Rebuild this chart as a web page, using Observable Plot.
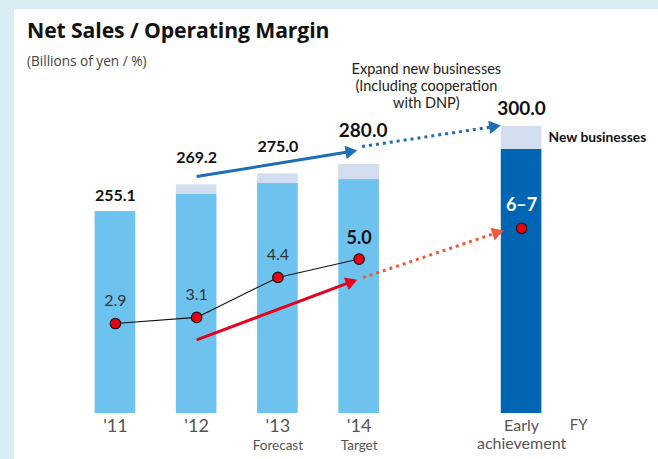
<!DOCTYPE html>
<html><head><meta charset="utf-8">
<script src="https://cdn.jsdelivr.net/npm/d3@7"></script>
<script src="https://cdn.jsdelivr.net/npm/@observablehq/plot@0.6"></script>
<style>
html,body{margin:0;padding:0;background:#d9eef2;}
#wrap{position:relative;width:658px;height:459px;overflow:hidden;background:#d9eef2;font-family:Lato,sans-serif;}
#panel{position:absolute;left:14px;top:9px;right:0;bottom:0;background:#fff;}
#chart{position:absolute;left:0;top:0;}
#title{position:absolute;left:27px;top:16px;font-family:"Open Sans",sans-serif;font-size:21.2px;font-weight:700;color:#111;line-height:28px;white-space:nowrap;letter-spacing:-0.1px;}
#sub{position:absolute;left:27px;top:52px;font-family:"Open Sans",sans-serif;font-size:13.6px;color:#444;line-height:18px;white-space:nowrap;}
</style></head><body>
<div id="wrap"><div id="panel"></div><div id="chart"></div>
<div id="title">Net Sales / Operating Margin</div>
<div id="sub">(Billions of yen / %)</div></div>
<script>
// ---- data ----
const categories = ["'11", "'12", "'13", "'14", "Early\nachievement"];
const slots = [0, 1, 2, 3, 5];               // position on the FY axis (slot 4 is a gap)
const netSales = [255.1, 269.2, 275.0, 280.0, 300.0];
const existingSales = [255.1, 264.2, 269.9, 272.0, 287.9];
const salesLabels = ["255.1", "269.2", "275.0", "280.0", "300.0"];
const operatingMargin = [2.9, 3.1, 4.4, 5.0, 6.0];
const marginLabels = ["2.9", "3.1", "4.4", "5.0", "6–7"];
const notes = ["", "", "Forecast", "Target", ""];
// trend arrows (slot, sales-scale value)
const trendArrows = [
  {from: [1, 273.6], to: [3, 287.5], color: "#1f6db5", dotted: false, insetStart: 0, insetEnd: 2},
  {from: [3, 289.2], to: [5, 302.2], color: "#1f6db5", dotted: true, insetStart: 3, insetEnd: 21},
  {from: [1, 187.3], to: [3, 219.5], color: "#e8001c", dotted: false, insetStart: 0, insetEnd: 2},
  {from: [3, 219.5], to: [5, 248.3], color: "#ee5a3a", dotted: true, insetStart: 4, insetEnd: 19}
];

const Y0 = 148.4, YTOP = 366.6;
// operating margin (%) mapped onto the sales axis (secondary scale: 0% at baseline)
const m2y = m => 148.9 + m * 16.22;

const rows = categories.map((c, i) => ({
  cat: c, slot: slots[i], total: netSales[i], existing: existingSales[i],
  label: salesLabels[i], margin: operatingMargin[i], mlabel: marginLabels[i], note: notes[i]
}));

const W = 658, H = 459;
function build(extra) {
  return Plot.plot({
    width: W, height: H,
    marginLeft: 54, marginRight: 76, marginTop: 0, marginBottom: 46,
    style: {background: "transparent", fontFamily: "Lato, sans-serif", overflow: "visible"},
    x: {domain: [-0.75, 5.75], axis: null},
    y: {domain: [Y0, YTOP], axis: null},
    marks: [
      Plot.rectY(rows.filter(d => d.slot < 5), {x1: d => d.slot - 0.25, x2: d => d.slot + 0.25, y1: Y0, y2: "existing", fill: "#6ec3ee"}),
      Plot.rectY(rows.filter(d => d.slot === 5), {x1: d => d.slot - 0.25, x2: d => d.slot + 0.25, y1: Y0, y2: "existing", fill: "#0066b3"}),
      Plot.rectY(rows.filter(d => d.total > d.existing), {x1: d => d.slot - 0.25, x2: d => d.slot + 0.25, y1: "existing", y2: "total", fill: "#d3ddf0"}),
      ...extra,
      Plot.line(rows.filter(d => d.slot < 5), {x: "slot", y: d => m2y(d.margin), stroke: "#111", strokeWidth: 1.1}),
      Plot.dot(rows, {x: "slot", y: d => m2y(d.margin), r: 5.3, fill: "#e60012", stroke: "#111", strokeWidth: 1.1}),
      // margin labels
      Plot.text(rows.filter(d => d.slot < 3), {x: "slot", y: d => m2y(d.margin), text: "mlabel", dy: -23, fontSize: 16, fill: "#333"}),
      Plot.text(rows.filter(d => d.slot === 3), {x: "slot", y: d => m2y(d.margin), text: "mlabel", dy: -21, fontSize: 18, fontWeight: 700, fill: "#111"}),
      Plot.text(rows.filter(d => d.slot === 5), {x: "slot", y: d => m2y(d.margin), text: "mlabel", dy: -23, fontSize: 18, fontWeight: 700, fill: "#fff"}),
      // sales labels
      Plot.text(rows.filter(d => d.slot === 0), {x: "slot", y: "total", text: "label", dy: -16, fontSize: 16, fontWeight: 700, fill: "#111"}),
      Plot.text(rows.filter(d => d.slot === 1 || d.slot === 2), {x: "slot", y: "total", text: "label", dy: -27, fontSize: 16, fontWeight: 700, fill: "#111"}),
      Plot.text(rows.filter(d => d.slot === 3), {x: "slot", y: "total", text: "label", dx: 4, dy: -34, fontSize: 19, fontWeight: 700, fill: "#111"}),
      Plot.text(rows.filter(d => d.slot === 5), {x: "slot", y: "total", text: "label", dy: -18, fontSize: 19, fontWeight: 700, fill: "#111"}),
      Plot.text(rows.filter(d => d.slot === 5), {x: "slot", y: d => (d.total + d.existing) / 2, text: () => "New businesses", dx: 27, textAnchor: "start", fontSize: 13.8, fontWeight: 700, fill: "#111"}),
      Plot.text(["Expand new businesses\n(Including cooperation\nwith DNP)"], {x: 4, y: 321.5, text: d => d, dx: -14, fontSize: 14.5, lineHeight: 1.17, fill: "#222"}),
      // FY axis labels
      Plot.text(rows.filter(d => d.slot < 5), {x: "slot", y: Y0, text: "cat", dy: 13, fontSize: 18, fill: "#555"}),
      Plot.text(rows.filter(d => d.note), {x: "slot", y: Y0, text: "note", dy: 32, fontSize: 13.5, fill: "#555"}),
      Plot.text(rows.filter(d => d.slot === 5), {x: "slot", y: Y0, text: "cat", dy: 5, lineAnchor: "top", fontSize: 16, lineHeight: 1.12, fill: "#555"}),
      Plot.text(["FY"], {x: 5, y: Y0, text: d => d, dx: 57, dy: 12, fontSize: 15, fill: "#555"})
    ]
  });
}

// first pass: obtain the scales, then build arrow shafts and filled heads
const first = build([]);
const sx = first.scale("x"), sy = first.scale("y");
const fx = d3.scaleLinear(sx.domain, sx.range), fy = d3.scaleLinear(sy.domain, sy.range);
const headR = 5;
const shafts = [], heads = [];
for (const a of trendArrows) {
  const x0 = fx(a.from[0]), y0 = fy(a.from[1]), x1 = fx(a.to[0]), y1 = fy(a.to[1]);
  const L = Math.hypot(x1 - x0, y1 - y0), ux = (x1 - x0) / L, uy = (y1 - y0) / L;
  const sX = x0 + ux * a.insetStart, sY = y0 + uy * a.insetStart;
  const tX = x1 - ux * a.insetEnd, tY = y1 - uy * a.insetEnd;
  const back = headR * 1.6;
  shafts.push({a, x1: fx.invert(sX), y1: fy.invert(sY), x2: fx.invert(tX - ux * back), y2: fy.invert(tY - uy * back)});
  heads.push({a, x: fx.invert(tX - ux * 1.555 * headR), y: fy.invert(tY - uy * 1.555 * headR), rot: Math.atan2(ux, -uy) * 180 / Math.PI});
}
const arrowMarks = [
  Plot.link(shafts.filter(d => !d.a.dotted), {x1: "x1", y1: "y1", x2: "x2", y2: "y2", stroke: d => d.a.color, strokeWidth: 3}),
  Plot.link(shafts.filter(d => d.a.dotted), {x1: "x1", y1: "y1", x2: "x2", y2: "y2", stroke: d => d.a.color, strokeWidth: 3, strokeDasharray: "3,4"}),
  Plot.dot(heads, {x: "x", y: "y", symbol: "triangle", r: headR, rotate: "rot", fill: d => d.a.color, stroke: "none"})
];
const chart = build(arrowMarks);
document.getElementById("chart").appendChild(chart);
</script>
</body></html>
